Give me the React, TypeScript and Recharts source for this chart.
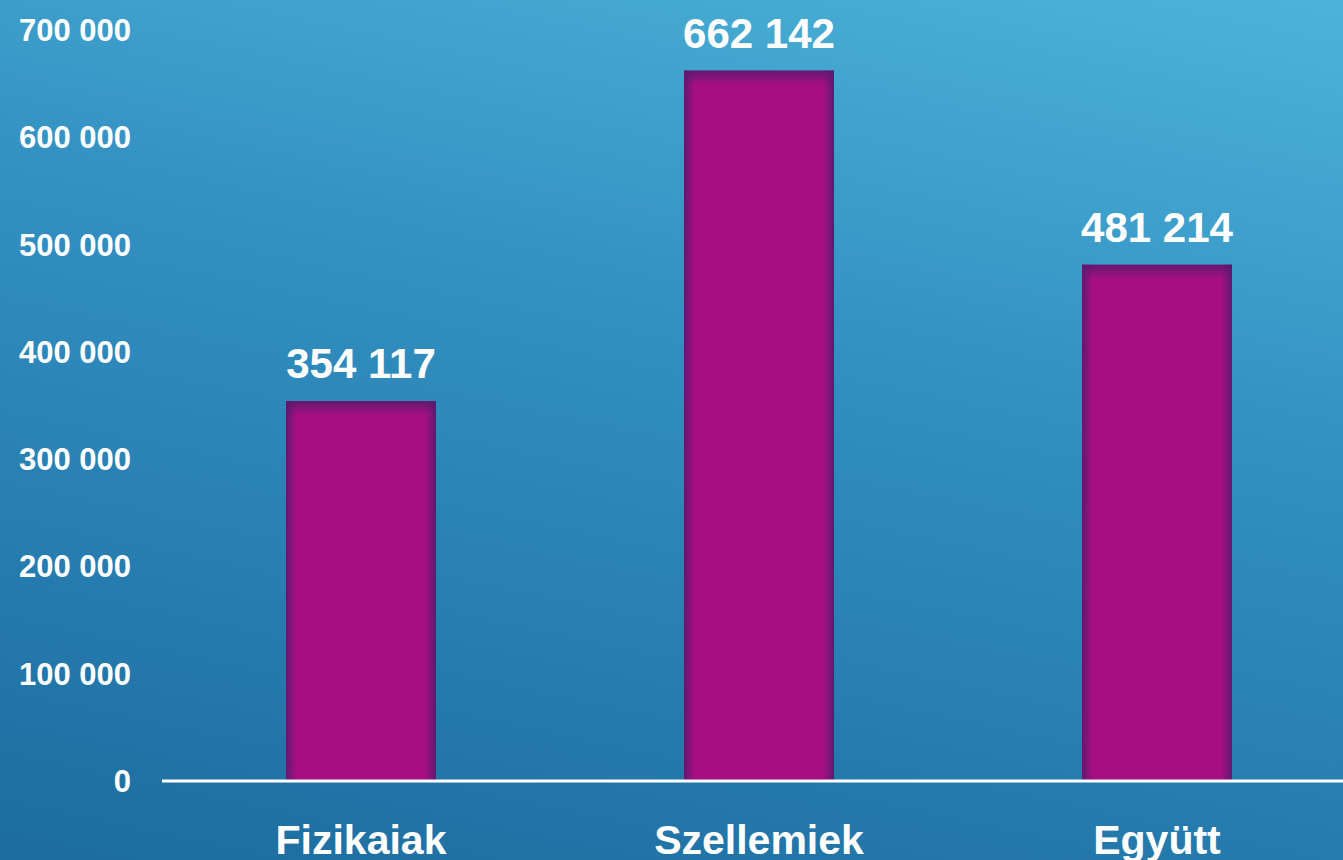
import { Bar, BarChart, LabelList, XAxis, YAxis } from "recharts";

const categories = ["Fizikaiak", "Szellemiek", "Együtt"];
const values = [354117, 662142, 481214];
const yTicks = [0, 100000, 200000, 300000, 400000, 500000, 600000, 700000];

const data = categories.map((name, i) => ({ name, value: values[i] }));

const FONT = "'Liberation Sans', Arial, sans-serif";

const fmt = (v: number) => v.toLocaleString("en-US").replace(/,/g, " ");

function YTick({ x, y, payload }: any) {
  return (
    <text x={x} y={y} dy={11} textAnchor="end" fill="#fff" fontFamily={FONT} fontWeight={700} fontSize={31}>
      {fmt(payload.value)}
    </text>
  );
}

function XTick({ x, y, payload }: any) {
  return (
    <text x={x} y={y} dy={65} textAnchor="middle" fill="#fff" fontFamily={FONT} fontWeight={700} fontSize={41}>
      {payload.value}
    </text>
  );
}

function BarShape({ x, y, width, height }: any) {
  if (!height || height <= 0) return null;
  return (
    <g>
      <rect x={x} y={y} width={width} height={height} fill="#a50f80" />
      <rect x={x} y={y} width={width} height={height} fill="url(#barSides)" />
      <rect x={x} y={y} width={width} height={Math.min(14, height)} fill="url(#barTop)" />
    </g>
  );
}

function ValueLabel({ x, y, width, value }: any) {
  return (
    <text x={x + width / 2} y={y - 23} textAnchor="middle" fill="#fff" fontFamily={FONT} fontWeight={700} fontSize={42}>
      {fmt(value)}
    </text>
  );
}

export default function App() {
  return (
    <div
      style={{
        position: "fixed",
        left: 0,
        top: 0,
        width: 1343,
        height: 860,
        overflow: "hidden",
        background: "linear-gradient(192deg, #4cb4d8 0%, #3390c2 40%, #1c6c9f 100%)",
      }}
    >
      <BarChart
        width={1356}
        height={860}
        data={data}
        margin={{ top: 30, right: 0, bottom: 0, left: 0 }}
        barSize={150}
      >
        <defs>
          <linearGradient id="barSides" x1="0" y1="0" x2="1" y2="0">
            <stop offset="0" stopColor="#5a1a6e" stopOpacity={0.95} />
            <stop offset="0.07" stopColor="#5a1a6e" stopOpacity={0} />
            <stop offset="0.93" stopColor="#5a1a6e" stopOpacity={0} />
            <stop offset="1" stopColor="#5a1a6e" stopOpacity={0.95} />
          </linearGradient>
          <linearGradient id="barTop" x1="0" y1="0" x2="0" y2="1">
            <stop offset="0" stopColor="#5a1a6e" stopOpacity={0.9} />
            <stop offset="1" stopColor="#5a1a6e" stopOpacity={0} />
          </linearGradient>
        </defs>
        <XAxis
          dataKey="name"
          height={79}
          tickLine={false}
          axisLine={{ stroke: "#fff", strokeWidth: 3 }}
          tick={<XTick />}
          interval={0}
        />
        <YAxis
          width={162}
          domain={[0, 700000]}
          ticks={yTicks}
          axisLine={false}
          tickLine={false}
          tickSize={0}
          tickMargin={31}
          tick={<YTick />}
        />
        <Bar dataKey="value" shape={<BarShape />} isAnimationActive={false}>
          <LabelList dataKey="value" content={<ValueLabel />} />
        </Bar>
      </BarChart>
    </div>
  );
}
